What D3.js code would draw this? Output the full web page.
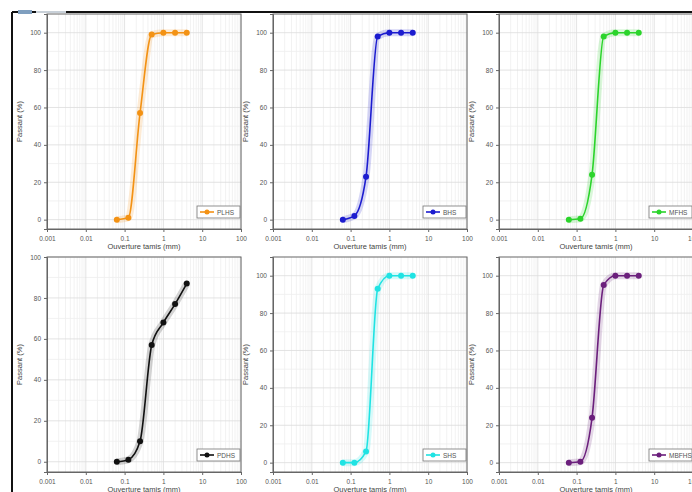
<!DOCTYPE html>
<html>
<head>
<meta charset="utf-8">
<script src="https://cdn.jsdelivr.net/npm/d3@7/dist/d3.min.js"></script>
<style>
  body { margin: 0; background: #fff; }
  svg { display: block; font-family: "Liberation Sans", Arial, sans-serif; }
  .tick text { fill: #555; font-size: 6.5px; }
  .tick line, .domain { stroke: #666; }
</style>
</head>
<body>
<svg id="chart" width="692" height="492"></svg>
<script>
// sieve openings (mm)
const sieves = [0.063, 0.125, 0.25, 0.5, 1, 2, 4];
// passing (%) per sample
const passPLHS  = [0, 1, 57, 99, 100, 100, 100];
const passBHS   = [0, 2, 23, 98, 100, 100, 100];
const passMFHS  = [0, 0.5, 24, 98, 100, 100, 100];
const passPDHS  = [0, 1, 10, 57, 68, 77, 87];
const passSHS   = [0, 0, 6, 93, 100, 100, 100];
const passMBFHS = [0, 0.5, 24, 95, 100, 100, 100];

const names = ["PLHS", "BHS", "MFHS", "PDHS", "SHS", "MBFHS"];
const values = [passPLHS, passBHS, passMFHS, passPDHS, passSHS, passMBFHS];
const colors = ["#f39214", "#1c1ccf", "#2bd42b", "#111111", "#1fe3e3", "#6b1f7c"];
const yMax = [110, 110, 110, 100, 110, 110];
const xTicks = [0.001, 0.01, 0.1, 1, 10, 100];
const yTicks = [0, 20, 40, 60, 80, 100];

const xTitle = "Ouverture tamis (mm)";
const yTitle = "Passant (%)";

const svg = d3.select("#chart");

// frame of the figure
svg.append("line").attr("x1", 12).attr("y1", 12).attr("x2", 692).attr("y2", 12)
  .attr("stroke", "#111").attr("stroke-width", 2);
svg.append("line").attr("x1", 12).attr("y1", 12).attr("x2", 12).attr("y2", 492)
  .attr("stroke", "#111").attr("stroke-width", 2);
svg.append("rect").attr("x", 18).attr("y", 10).attr("width", 14).attr("height", 4).attr("fill", "#7f9fbf");
svg.append("rect").attr("x", 36).attr("y", 11).attr("width", 30).attr("height", 2).attr("fill", "#c8d0d8");

const colLeft = [47, 273, 499];
const rowTop = [14, 257];
const plotW = 194, plotH = 215;

const fmt = d => d >= 1 ? d3.format("d")(d) : String(d);

values.forEach((vals, i) => {
  const left = colLeft[i % 3], top = rowTop[Math.floor(i / 3)];
  const g = svg.append("g").attr("transform", `translate(${left},${top})`);

  const x = d3.scaleLog().domain([0.001, 100]).range([0, plotW]);
  const y = d3.scaleLinear().domain([-5, yMax[i]]).range([plotH, 0]);

  g.append("rect").attr("width", plotW).attr("height", plotH).attr("fill", "#fff");

  // minor grid
  const minorX = [];
  for (let e = -3; e < 2; e++) for (let m = 2; m < 10; m++) minorX.push(m * Math.pow(10, e));
  g.selectAll(".mx").data(minorX).enter().append("line")
    .attr("x1", d => x(d)).attr("x2", d => x(d)).attr("y1", 0).attr("y2", plotH)
    .attr("stroke", "#efefef").attr("stroke-width", 0.8);
  g.selectAll(".my").data(d3.range(10, yMax[i], 20)).enter().append("line")
    .attr("x1", 0).attr("x2", plotW).attr("y1", d => y(d)).attr("y2", d => y(d))
    .attr("stroke", "#efefef").attr("stroke-width", 0.8);
  // major grid
  g.selectAll(".gx").data(xTicks).enter().append("line")
    .attr("x1", d => x(d)).attr("x2", d => x(d)).attr("y1", 0).attr("y2", plotH)
    .attr("stroke", "#dcdcdc").attr("stroke-width", 0.8);
  g.selectAll(".gy").data(yTicks).enter().append("line")
    .attr("x1", 0).attr("x2", plotW).attr("y1", d => y(d)).attr("y2", d => y(d))
    .attr("stroke", "#dcdcdc").attr("stroke-width", 0.8);

  // axes
  g.append("g").attr("transform", `translate(0,${plotH})`)
    .call(d3.axisBottom(x).tickValues(xTicks).tickFormat(fmt).tickSize(3).tickPadding(4));
  g.append("g")
    .call(d3.axisLeft(y).tickValues(yTicks).tickSize(3).tickPadding(3));
  g.append("rect").attr("width", plotW).attr("height", plotH)
    .attr("fill", "none").attr("stroke", "#666").attr("stroke-width", 1);

  // titles
  g.append("text").attr("x", plotW / 2).attr("y", plotH + 20)
    .attr("text-anchor", "middle").attr("font-size", 7.5).attr("fill", "#444").text(xTitle);
  g.append("text").attr("transform", `translate(-25,${plotH / 2}) rotate(-90)`)
    .attr("text-anchor", "middle").attr("font-size", 7.5).attr("fill", "#444").text(yTitle);

  // series
  const pts = sieves.map((s, k) => [s, vals[k]]);
  const line = d3.line().x(d => x(d[0])).y(d => y(d[1])).curve(d3.curveMonotoneX);
  g.append("path").attr("d", line(pts)).attr("fill", "none")
    .attr("stroke", colors[i]).attr("stroke-opacity", 0.18).attr("stroke-width", 7)
    .attr("stroke-linejoin", "round");
  g.append("path").attr("d", line(pts)).attr("fill", "none")
    .attr("stroke", colors[i]).attr("stroke-width", 1.6);
  g.selectAll(".pt").data(pts).enter().append("circle")
    .attr("cx", d => x(d[0])).attr("cy", d => y(d[1])).attr("r", 3)
    .attr("fill", colors[i]);

  // legend
  const lg = g.append("g").attr("transform", `translate(${plotW - 44},${plotH - 23})`);
  lg.append("rect").attr("width", 43).attr("height", 12)
    .attr("fill", "#fff").attr("stroke", "#777").attr("stroke-width", 0.8);
  lg.append("line").attr("x1", 3).attr("x2", 17).attr("y1", 6).attr("y2", 6)
    .attr("stroke", colors[i]).attr("stroke-width", 1.6);
  lg.append("circle").attr("cx", 10).attr("cy", 6).attr("r", 2.5).attr("fill", colors[i]);
  lg.append("text").attr("x", 20).attr("y", 8.5).attr("font-size", 6.5).attr("fill", "#555")
    .text(names[i]);
});
</script>
</body>
</html>
